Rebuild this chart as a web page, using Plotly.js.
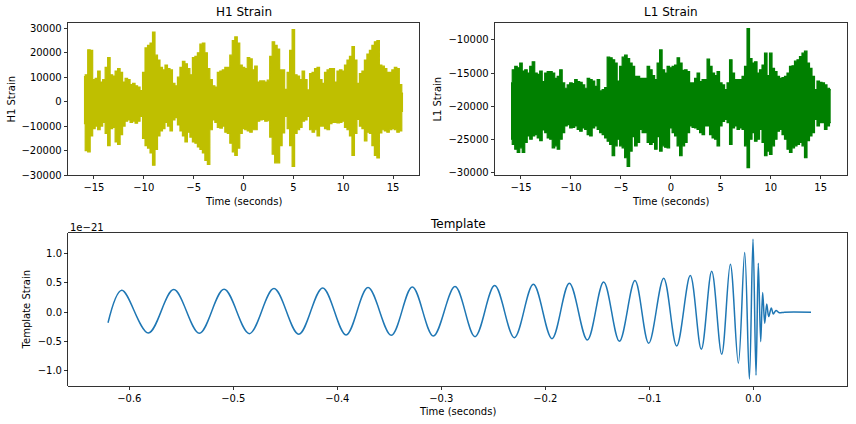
<!DOCTYPE html>
<html>
<head>
<meta charset="utf-8">
<script src="https://cdn.plot.ly/plotly-3.0.1.min.js"></script>
<style>html,body{margin:0;padding:0;background:#fff;}#chart{width:856px;height:424px;}</style>
</head>
<body>
<div id="chart"></div>
<script>
// ---- data ----
// sample times (seconds) at which the envelope of the strain traces was read
const sampleTimes = [
 -16,-15.75,-15.5,-15.25,-15,-14.75,-14.5,-14.25,
 -14,-13.75,-13.5,-13.25,-13,-12.75,-12.5,-12.25,
 -12,-11.75,-11.5,-11.25,-11,-10.75,-10.5,-10.25,
 -10,-9.75,-9.5,-9.25,-9,-8.75,-8.5,-8.25,
 -8,-7.75,-7.5,-7.25,-7,-6.75,-6.5,-6.25,
 -6,-5.75,-5.5,-5.25,-5,-4.75,-4.5,-4.25,
 -4,-3.75,-3.5,-3.25,-3,-2.75,-2.5,-2.25,
 -2,-1.75,-1.5,-1.25,-1,-0.75,-0.5,-0.25,
 0,0.25,0.5,0.75,1,1.25,1.5,1.75,
 2,2.25,2.5,2.75,3,3.25,3.5,3.75,
 4,4.25,4.5,4.75,5,5.25,5.5,5.75,
 6,6.25,6.5,6.75,7,7.25,7.5,7.75,
 8,8.25,8.5,8.75,9,9.25,9.5,9.75,
 10,10.25,10.5,10.75,11,11.25,11.5,11.75,
 12,12.25,12.5,12.75,13,13.25,13.5,13.75,
 14,14.25,14.5,14.75,15,15.25,15.5,15.75,
 16
];
// H1 strain: upper and lower envelope of the dense trace
const h1Upper = [
 10300,11000,21200,21000,9000,9500,12500,8000,
 9000,14000,18000,11000,10500,12500,13500,12000,
 8000,9500,9000,7000,7500,6500,6000,4500,
 12000,22000,23000,24000,28500,19000,17000,14000,
 13000,15000,13500,13000,7500,6500,10000,14000,
 16500,15500,13500,11000,18000,18500,20000,23500,
 24000,20000,13500,9000,6500,6000,12000,12500,
 13000,14000,14000,19000,25000,26500,24000,15000,
 14000,13500,18000,17500,13000,14500,8000,8500,
 8500,8000,8800,18500,24500,23000,21500,13000,
 13000,5000,12000,21000,29500,11000,10500,9000,
 12500,9000,4800,11500,12000,13500,14000,9000,
 7500,12000,13000,13500,13500,8000,12500,13000,
 12500,15000,17000,18500,22500,17000,7500,11500,
 12500,17000,19500,21000,23000,24500,25000,15000,
 14500,13500,12000,12000,13000,14000,13500,7000,
 3500
];
const h1Lower = [
 -9000,-20000,-20500,-14000,-11000,-10000,-11500,-10000,
 -8500,-13000,-18000,-11000,-10500,-16500,-17500,-13500,
 -10000,-8000,-7500,-8500,-8000,-8800,-8000,-6000,
 -15000,-18000,-19000,-21000,-26000,-19500,-14000,-12000,
 -11000,-8500,-10000,-12000,-7500,-6500,-9500,-12000,
 -14000,-16500,-12500,-14500,-16500,-17000,-18500,-19500,
 -21000,-24000,-25700,-11500,-7500,-8500,-10500,-10800,
 -10000,-12500,-13000,-17000,-20500,-22000,-19000,-13000,
 -11000,-11500,-12000,-12500,-11500,-11500,-8000,-7500,
 -7300,-8000,-7800,-14500,-21500,-25000,-25000,-18000,
 -12800,-6000,-11000,-18000,-26500,-13000,-11500,-10500,
 -8000,-7500,-6000,-11500,-12500,-11500,-14000,-10000,
 -10000,-11000,-11500,-9000,-8500,-8500,-8700,-8500,
 -8000,-10500,-11500,-14000,-22000,-13000,-7300,-10000,
 -11000,-16000,-12500,-13000,-18000,-22000,-23000,-12800,
 -11500,-12000,-12500,-11500,-11000,-11500,-12500,-12000,
 -4000
];
// L1 strain: upper and lower envelope of the dense trace
const l1Upper = [
 -16500,-14500,-14000,-14200,-13500,-14700,-14500,-15000,
 -14000,-13300,-15000,-15200,-14700,-16300,-15000,-14800,
 -14800,-15000,-15800,-15500,-14500,-16500,-17300,-16800,
 -16500,-16600,-16000,-16300,-16400,-16800,-17300,-15800,
 -16000,-16200,-17000,-16000,-17700,-17500,-17200,-12600,
 -12700,-13000,-13500,-16200,-14000,-12600,-12300,-12800,
 -13500,-14000,-15500,-15500,-15800,-15800,-15800,-14000,
 -14500,-15400,-16000,-13500,-11500,-14500,-15000,-14000,
 -14200,-14000,-13800,-12700,-13500,-14600,-14500,-14800,
 -16500,-16500,-15800,-15000,-16300,-16000,-16000,-12900,
 -14000,-15000,-15400,-14800,-16500,-16800,-17500,-16500,
 -13000,-15000,-16000,-16000,-16000,-15500,-14000,-8300,
 -12800,-13500,-13300,-15000,-14500,-13800,-12000,-15400,
 -12000,-14300,-14800,-15500,-15800,-15700,-15500,-15000,
 -14000,-13900,-13200,-13000,-12500,-12000,-11700,-13500,
 -14300,-15500,-17500,-16200,-16400,-16500,-16800,-17300,
 -17500
];
const l1Lower = [
 -25000,-25800,-26500,-27000,-26300,-27000,-25500,-24500,
 -25000,-24500,-24300,-24800,-25200,-23600,-24000,-24800,
 -25000,-26300,-26000,-26500,-25000,-24000,-23000,-22800,
 -23300,-23200,-23000,-23500,-23800,-23300,-23500,-24300,
 -24500,-23300,-23000,-23500,-24000,-24300,-24800,-25300,
 -25800,-27500,-26000,-25000,-26000,-26300,-27800,-29100,
 -26800,-24600,-26000,-25500,-23500,-24000,-24000,-25500,
 -25800,-25500,-26500,-24600,-26800,-26000,-26200,-26300,
 -23300,-24000,-24500,-26000,-27500,-26000,-25500,-24000,
 -23000,-23200,-23300,-23500,-24000,-24300,-23000,-23000,
 -24300,-24800,-25000,-26000,-23000,-22300,-22000,-22500,
 -25800,-23300,-23000,-23500,-23300,-23500,-26000,-29300,
 -25000,-24000,-25300,-25000,-23500,-25500,-27500,-26800,
 -27300,-26000,-25000,-23800,-23500,-24300,-25000,-26500,
 -27000,-26300,-26000,-25800,-25500,-26000,-27800,-25200,
 -24500,-24000,-22000,-23000,-22500,-22500,-23500,-23000,
 -22500
];
// Template: turning points of the chirp (time in s, strain in units of 1e-21)
const templateTime = [
 -0.6205,-0.6073,-0.5817,-0.5573,-0.5327,-0.5089,-0.4846,-0.4609,-0.4371,-0.4141,
 -0.3916,-0.3705,-0.3481,-0.3279,-0.3077,-0.2868,-0.2676,-0.2487,-0.2298,-0.2115,
 -0.1936,-0.1769,-0.1596,-0.1439,-0.1288,-0.1138,-0.1006,-0.0862,-0.0737,-0.0606,
 -0.0500,-0.0400,-0.0304,-0.0221,-0.0144,-0.0083,-0.0038,-0.0003,0.0026,0.0048,
 0.0071,0.0090,0.0110,0.0129,0.0148,0.0173,0.0192,0.0218,0.0250,0.0300,0.0555
];
const templateStrainE21 = [
 -0.18,0.372,-0.354,0.383,-0.359,0.389,-0.365,0.400,-0.376,0.411,
 -0.388,0.417,-0.394,0.428,-0.405,0.434,-0.416,0.451,-0.433,0.474,
 -0.450,0.491,-0.472,0.513,-0.495,0.536,-0.529,0.576,-0.575,0.621,
 -0.631,0.694,-0.716,0.813,-0.869,1.012,-1.135,1.238,-1.073,0.830,
 -0.501,0.332,-0.189,0.139,-0.076,0.071,-0.03,0.03,-0.01,0.0,0.0
];
// tick labels
const strainTimeTicks = [-15,-10,-5,0,5,10,15];
const strainTimeLabels = ['\u221215','\u221210','\u22125','0','5','10','15'];
const h1Ticks = [-30000,-20000,-10000,0,10000,20000,30000];
const h1TickLabels = ['\u221230000','\u221220000','\u221210000','0','10000','20000','30000'];
const l1Ticks = [-30000,-25000,-20000,-15000,-10000];
const l1TickLabels = ['\u221230000','\u221225000','\u221220000','\u221215000','\u221210000'];
const templateTimeTicks = [-0.6,-0.5,-0.4,-0.3,-0.2,-0.1,0.0];
const templateTimeLabels = ['\u22120.6','\u22120.5','\u22120.4','\u22120.3','\u22120.2','\u22120.1','0.0'];
const templateTicks = [-1.0,-0.5,0.0,0.5,1.0];
const templateTickLabels = ['\u22121.0','\u22120.5','0.0','0.5','1.0'];

// ---- figure ----
const W = 856, H = 424;
const px = x => x / W;
const py = y => 1 - y / H;
const FONT = 'DejaVu Sans, Verdana, sans-serif';
const H1C = '#bfbf00', L1C = '#008000', TC = '#1f77b4';

const traces = [
  {x: sampleTimes, y: h1Upper, xaxis: 'x', yaxis: 'y', mode: 'lines', line: {color: H1C, width: 1.2, shape: 'hvh'}, hoverinfo: 'skip'},
  {x: sampleTimes, y: h1Lower, xaxis: 'x', yaxis: 'y', mode: 'lines', line: {color: H1C, width: 1.2, shape: 'hvh'}, fill: 'tonexty', fillcolor: H1C, hoverinfo: 'skip'},
  {x: sampleTimes, y: l1Upper, xaxis: 'x2', yaxis: 'y2', mode: 'lines', line: {color: L1C, width: 1.2, shape: 'hvh'}, hoverinfo: 'skip'},
  {x: sampleTimes, y: l1Lower, xaxis: 'x2', yaxis: 'y2', mode: 'lines', line: {color: L1C, width: 1.2, shape: 'hvh'}, fill: 'tonexty', fillcolor: L1C, hoverinfo: 'skip'},
  {x: templateTime, y: templateStrainE21, xaxis: 'x3', yaxis: 'y3', mode: 'lines', line: {color: TC, width: 1.5, shape: 'spline', smoothing: 1}, hoverinfo: 'skip'}
];

const axBase = {
  showline: true, linecolor: '#000', linewidth: 0.8, mirror: true,
  ticks: 'outside', ticklen: 3.5, tickwidth: 0.8, tickcolor: '#000',
  showgrid: false, zeroline: false, tickmode: 'array',
  tickfont: {family: FONT, size: 10, color: '#000'}, fixedrange: true
};

const layout = {
  width: W, height: H,
  margin: {l: 0, r: 0, t: 0, b: 0},
  paper_bgcolor: '#fff', plot_bgcolor: '#fff',
  showlegend: false,
  font: {family: FONT, size: 10, color: '#000'},
  xaxis: Object.assign({}, axBase, {domain: [px(68), px(419)], range: [-17.6, 17.6], anchor: 'y', tickvals: strainTimeTicks, ticktext: strainTimeLabels}),
  yaxis: Object.assign({}, axBase, {domain: [py(175), py(22.7)], range: [-30000, 32300], anchor: 'x', tickvals: h1Ticks, ticktext: h1TickLabels}),
  xaxis2: Object.assign({}, axBase, {domain: [px(495), px(846.7)], range: [-17.6, 17.6], anchor: 'y2', tickvals: strainTimeTicks, ticktext: strainTimeLabels}),
  yaxis2: Object.assign({}, axBase, {domain: [py(175), py(22.7)], range: [-30410, -7390], anchor: 'x2', tickvals: l1Ticks, ticktext: l1TickLabels}),
  xaxis3: Object.assign({}, axBase, {domain: [px(68.3), px(846.7)], range: [-0.6587, 0.0898], anchor: 'y3', tickvals: templateTimeTicks, ticktext: templateTimeLabels}),
  yaxis3: Object.assign({}, axBase, {domain: [py(386), py(233.3)], range: [-1.255, 1.34], anchor: 'x3', tickvals: templateTicks, ticktext: templateTickLabels}),
  annotations: [
    {text: 'H1 Strain', x: px(243.5), y: py(12.3), size: 12},
    {text: 'L1 Strain', x: px(670.8), y: py(12.3), size: 12},
    {text: 'Template', x: px(457.5), y: py(223.5), size: 12},
    {text: 'Time (seconds)', x: px(243.5), y: py(201.7), size: 10},
    {text: 'Time (seconds)', x: px(670.8), y: py(201.7), size: 10},
    {text: 'Time (seconds)', x: px(457.5), y: py(411.2), size: 10},
    {text: 'H1 Strain', x: px(11.7), y: py(98.9), size: 10, rot: -90},
    {text: 'L1 Strain', x: px(437.7), y: py(98.9), size: 10, rot: -90},
    {text: 'Template Strain', x: px(26.7), y: py(309.7), size: 10, rot: -90},
    {text: '1e\u221221', x: px(68), y: py(227.3), size: 10, xanchor: 'left'}
  ].map(a => ({
    text: a.text, x: a.x, y: a.y, xref: 'paper', yref: 'paper',
    xanchor: a.xanchor || 'center', yanchor: 'middle', showarrow: false,
    textangle: a.rot || 0, font: {family: FONT, size: a.size, color: '#000'}
  }))
};

Plotly.newPlot('chart', traces, layout, {staticPlot: true, displayModeBar: false});
</script>
</body>
</html>
